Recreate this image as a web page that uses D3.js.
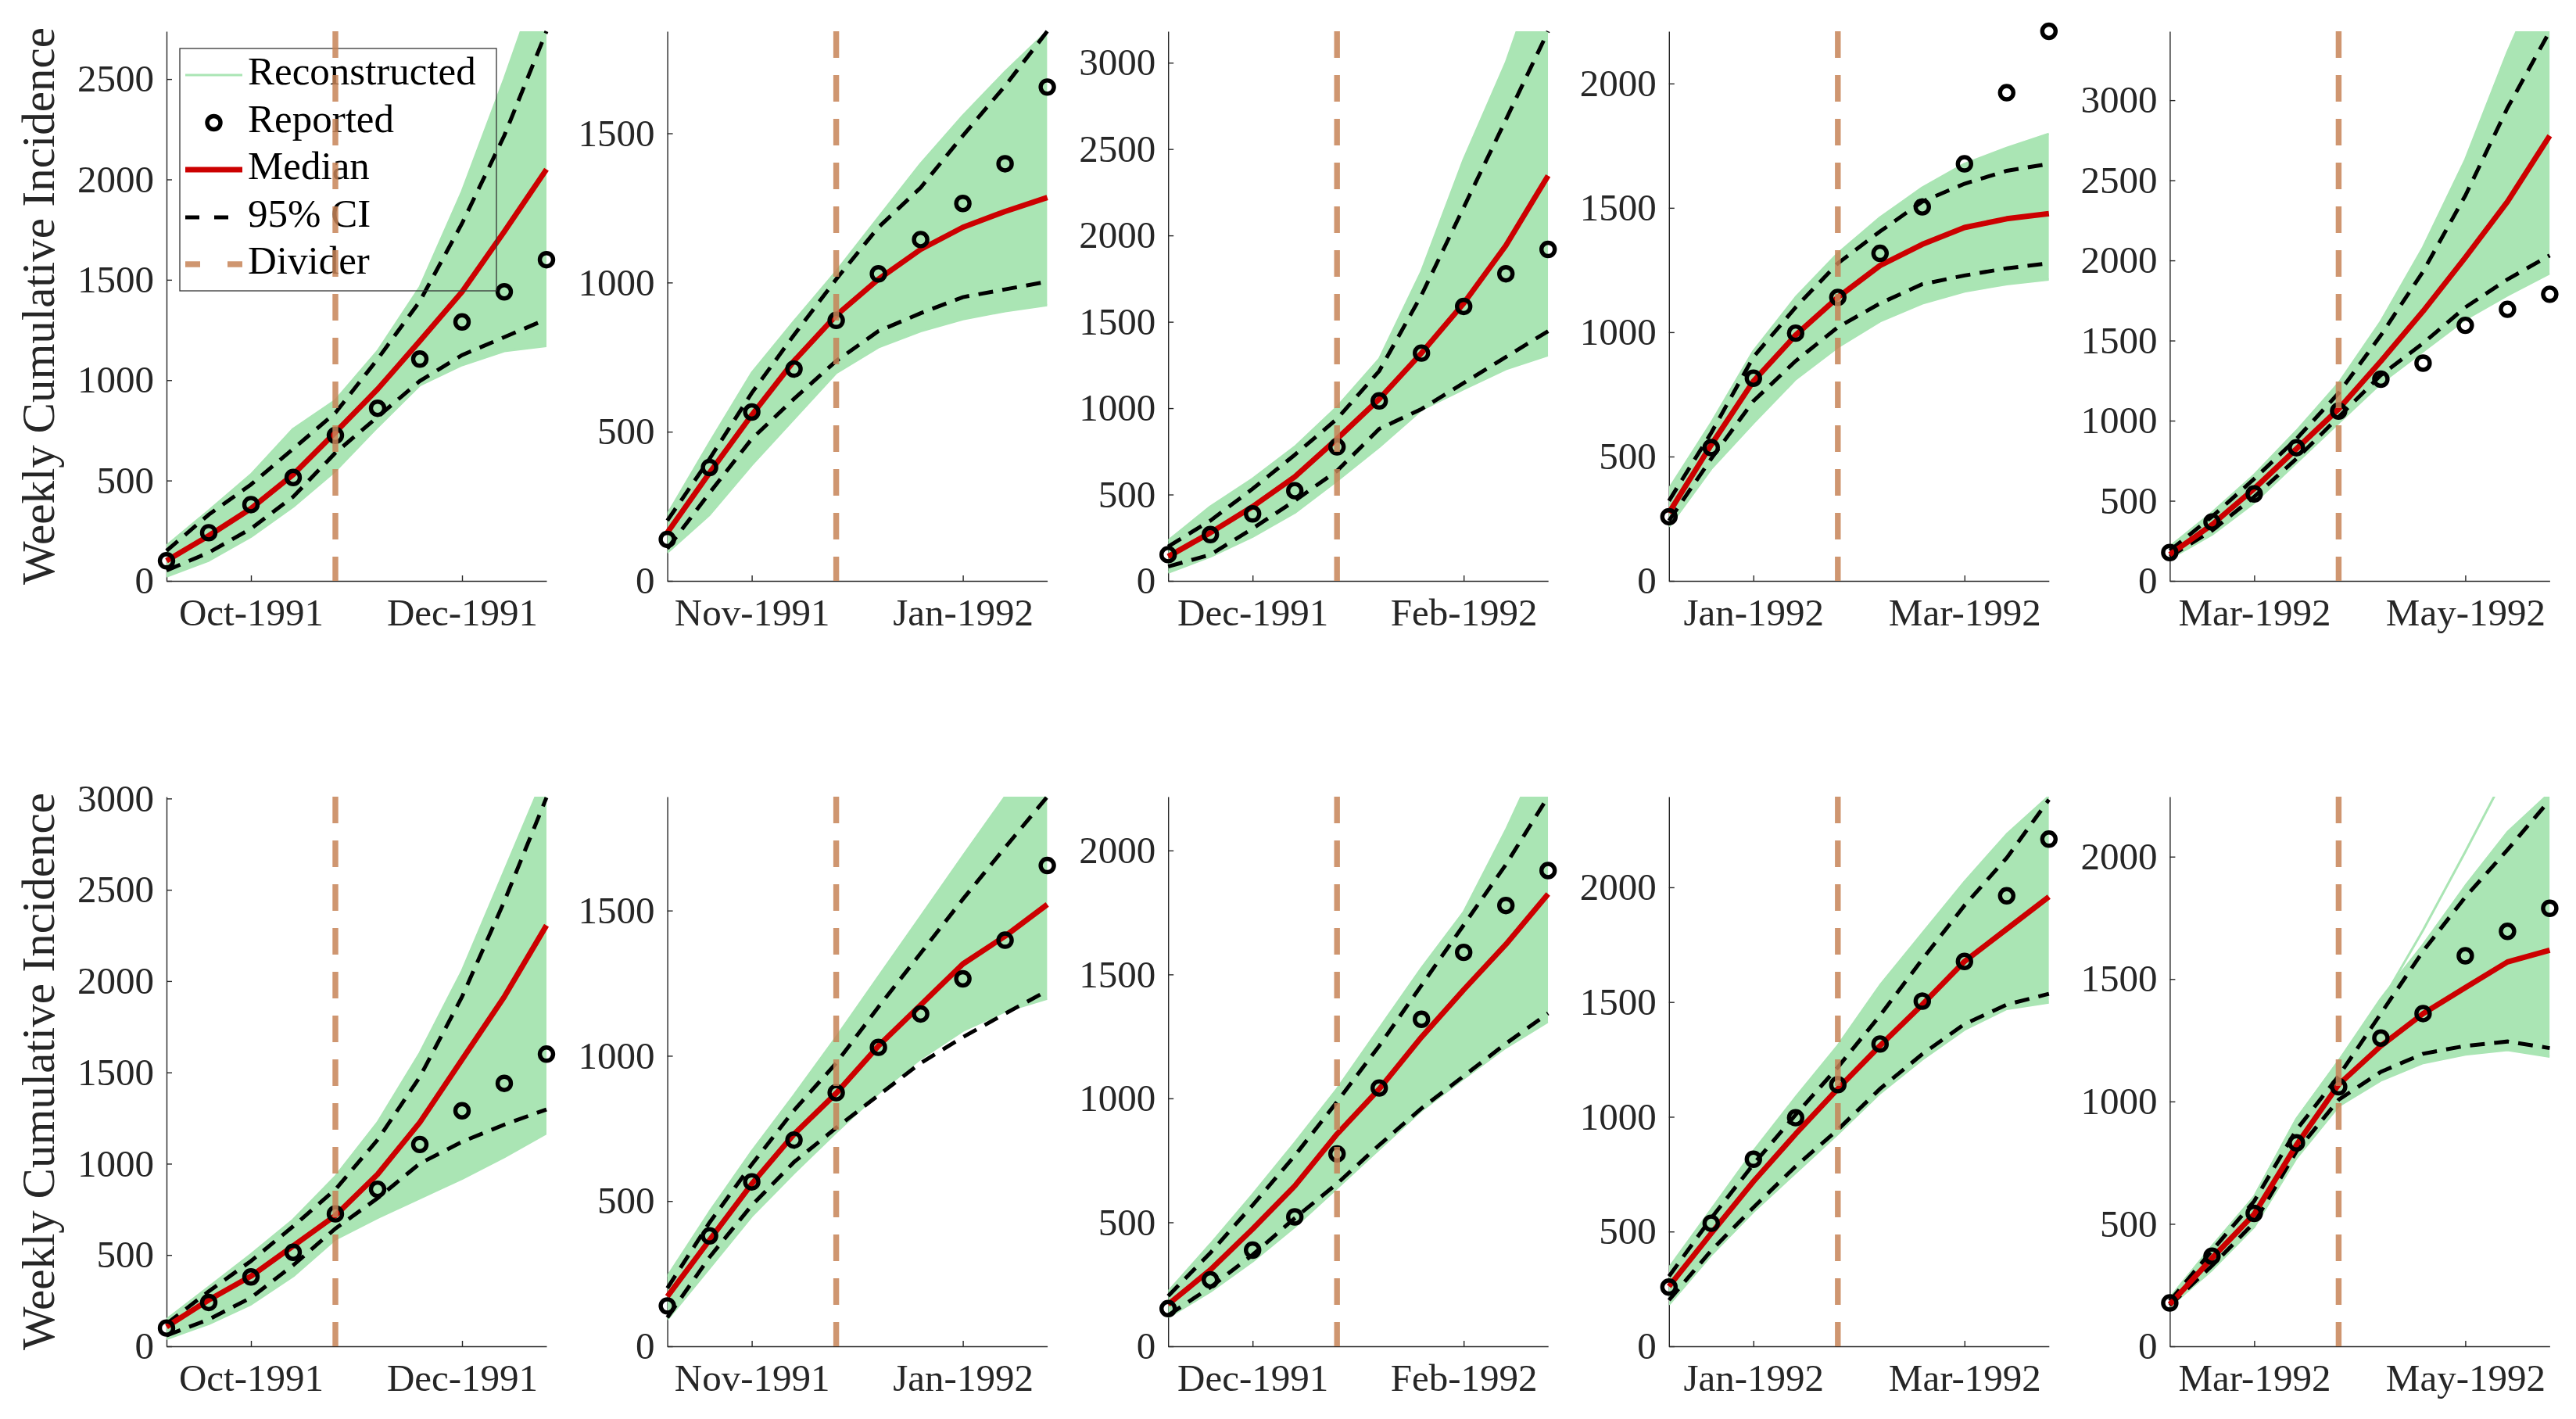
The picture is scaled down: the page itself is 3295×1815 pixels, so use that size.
<!DOCTYPE html>
<html>
<head>
<meta charset="utf-8">
<script src="https://cdn.jsdelivr.net/npm/d3@7"></script>
<style>
  html, body { margin: 0; padding: 0; background: #ffffff; }
  svg { display: block; }
</style>
</head>
<body>
<svg id="chart" width="3295" height="1815"></svg>
<script>
// ---------------- DATA ----------------
// Ten weekly points per panel (index 0..9); divider after week index 4.
const tickLabels = [
  ["Oct-1991", "Dec-1991"],
  ["Nov-1991", "Jan-1992"],
  ["Dec-1991", "Feb-1992"],
  ["Jan-1992", "Mar-1992"],
  ["Mar-1992", "May-1992"]
];
const tickWeeks = [2, 7];
const dividerWeek = 4;

// Reported cumulative incidence (same in both rows)
const reported = [
  [100, 240, 380, 515, 725, 860, 1105, 1290, 1440, 1600],
  [139, 380, 566, 710, 873, 1029, 1144, 1265, 1398, 1655],
  [152, 268, 388, 522, 776, 1042, 1319, 1589, 1778, 1919],
  [258, 536, 815, 996, 1140, 1317, 1504, 1677, 1963, 2210],
  [177, 368, 543, 831, 1060, 1259, 1359, 1595, 1695, 1789]
];

// ---- Top row ----
const yMaxTop = [2738, 1842, 3182, 2210, 3430];
const medianTop = [
  [100, 225, 360, 530, 740, 955, 1195, 1440, 1740, 2050],
  [162, 362, 556, 737, 890, 1011, 1111, 1185, 1238, 1285],
  [141, 279, 430, 603, 822, 1053, 1319, 1607, 1942, 2346],
  [274, 547, 803, 988, 1140, 1268, 1353, 1421, 1456, 1477],
  [164, 351, 575, 824, 1073, 1371, 1683, 2018, 2367, 2778]
];
const ciUpperTop = [
  [150, 330, 480, 658, 837, 1105, 1393, 1781, 2218, 2738],
  [202, 409, 630, 824, 1011, 1185, 1318, 1492, 1659, 1842],
  [199, 349, 533, 730, 938, 1215, 1654, 2162, 2670, 3182],
  [322, 595, 900, 1100, 1277, 1405, 1525, 1597, 1649, 1677],
  [189, 401, 637, 886, 1172, 1533, 1931, 2404, 2952, 3430]
];
const ciLowerTop = [
  [52, 141, 260, 419, 638, 817, 996, 1125, 1214, 1304],
  [108, 295, 476, 610, 737, 837, 897, 951, 977, 1003],
  [83, 152, 303, 464, 637, 880, 995, 1146, 1296, 1446],
  [242, 491, 723, 884, 1020, 1116, 1193, 1228, 1257, 1277],
  [152, 314, 525, 762, 1023, 1284, 1483, 1707, 1882, 2031]
];
const ensUpperTop = [
  [175, 350, 530, 757, 900, 1145, 1463, 1940, 2500, 3100],
  [222, 463, 697, 870, 1037, 1218, 1398, 1559, 1706, 1842],
  [233, 430, 591, 776, 1007, 1284, 1792, 2439, 3000, 3700],
  [370, 635, 924, 1140, 1317, 1461, 1581, 1677, 1741, 1798],
  [214, 426, 662, 936, 1234, 1620, 2081, 2628, 3300, 3900]
];
const ensLowerTop = [
  [22, 101, 220, 370, 548, 767, 975, 1075, 1145, 1170],
  [95, 222, 389, 543, 697, 783, 837, 877, 904, 924],
  [48, 141, 256, 395, 580, 776, 990, 1111, 1226, 1307],
  [218, 451, 635, 811, 940, 1044, 1116, 1164, 1193, 1212],
  [139, 289, 488, 737, 986, 1234, 1433, 1632, 1782, 1919]
];

// ---- Bottom row ----
const yMaxBottom = [3010, 1892, 2217, 2395, 2245];
const medianBottom = [
  [107, 254, 384, 550, 716, 942, 1226, 1570, 1914, 2305],
  [171, 366, 559, 730, 871, 1034, 1175, 1316, 1412, 1521],
  [169, 308, 473, 647, 856, 1038, 1247, 1438, 1621, 1824],
  [261, 492, 718, 925, 1122, 1310, 1489, 1677, 1818, 1959],
  [171, 360, 540, 822, 1069, 1227, 1359, 1465, 1570, 1618]
];
const ciUpperBottom = [
  [123, 301, 467, 657, 859, 1131, 1475, 1914, 2436, 3005],
  [200, 426, 626, 812, 975, 1168, 1353, 1539, 1717, 1892],
  [203, 377, 569, 769, 986, 1212, 1456, 1699, 1943, 2217],
  [305, 558, 793, 1009, 1216, 1442, 1686, 1921, 2128, 2382],
  [185, 391, 593, 884, 1104, 1359, 1614, 1835, 2028, 2231]
];
const ciLowerBottom = [
  [59, 147, 266, 444, 645, 811, 1001, 1120, 1214, 1297],
  [99, 307, 485, 634, 752, 864, 975, 1064, 1145, 1224],
  [125, 238, 369, 517, 656, 812, 960, 1090, 1221, 1343],
  [201, 417, 605, 784, 944, 1122, 1273, 1404, 1489, 1536],
  [167, 329, 505, 796, 1007, 1121, 1195, 1227, 1245, 1218]
];
const ensUpperBottom = [
  [147, 325, 503, 693, 930, 1226, 1606, 2056, 2602, 3150],
  [240, 463, 671, 864, 1064, 1272, 1479, 1687, 1892, 2100],
  [221, 412, 612, 821, 1038, 1282, 1525, 1751, 2082, 2450],
  [342, 596, 850, 1085, 1310, 1573, 1799, 2024, 2231, 2397],
  [197, 408, 611, 928, 1165, 1420, 1640, 1880, 2100, 2260]
];
const ensLowerBottom = [
  [40, 123, 230, 384, 586, 704, 811, 918, 1036, 1167],
  [92, 270, 448, 596, 737, 871, 990, 1086, 1153, 1197],
  [117, 221, 343, 482, 638, 795, 951, 1080, 1205, 1310],
  [182, 398, 586, 756, 925, 1103, 1250, 1380, 1470, 1498],
  [162, 312, 488, 769, 981, 1086, 1157, 1192, 1210, 1183]
];
// Individual reconstructed trajectory that stands out of the bundle (bottom row, last panel)
const outlierBottom5 = [197, 408, 611, 928, 1165, 1403, 1700, 2020, 2350, 2680];

const legendLabels = ["Reconstructed", "Reported", "Median", "95% CI", "Divider"];
const yLabel = "Weekly Cumulative Incidence";

// ---------------- LAYOUT / STYLE ----------------
const FONT = '"Liberation Serif", "Times New Roman", serif';
const GREEN = "#aae5b4";
const RED = "#cc0000";
const DIVC = "rgb(199,132,87)";
const AXC = "#262626";
const CIR_R = 8.5, CIR_W = 5.4;
const MED_W = 7, CI_W = 5, CI_DASH = "19,12";

const plotLeft0 = 213, colStep = 640.6, plotW = 486, plotH = 703;
const rowTops = [40, 1019];

const rows = [
  { median: medianTop, ciU: ciUpperTop, ciL: ciLowerTop, eU: ensUpperTop, eL: ensLowerTop, yMax: yMaxTop, extra: [] },
  { median: medianBottom, ciU: ciUpperBottom, ciL: ciLowerBottom, eU: ensUpperBottom, eL: ensLowerBottom, yMax: yMaxBottom,
    extra: [{ col: 4, values: outlierBottom5 }] }
];

const svg = d3.select("#chart");
svg.append("rect").attr("width", 3295).attr("height", 1815).attr("fill", "#fff");
const defs = svg.append("defs");
const dividerLayer = [];

rows.forEach((R, r) => {
  for (let c = 0; c < 5; c++) {
    const left = plotLeft0 + c * colStep;
    const top = rowTops[r];
    const x = d3.scaleLinear().domain([0, 9]).range([left, left + plotW]);
    const y = d3.scaleLinear().domain([0, R.yMax[c]]).range([top + plotH, top]);
    const g = svg.append("g");

    // axes (drawn under the data, as in MATLAB default layer)
    const ay = g.append("g")
      .attr("transform", `translate(${left},0)`)
      .call(d3.axisLeft(y)
        .tickValues(d3.range(0, R.yMax[c] + 1, 500))
        .tickFormat(d3.format("d"))
        .tickSize(-7).tickSizeOuter(0).tickPadding(16));
    const ax = g.append("g")
      .attr("transform", `translate(0,${top + plotH})`)
      .call(d3.axisBottom(x)
        .tickValues(tickWeeks)
        .tickFormat((d, i) => tickLabels[c][i])
        .tickSize(-7).tickSizeOuter(0).tickPadding(22));
    [ay, ax].forEach(a => {
      a.attr("font-family", FONT).attr("font-size", 49);
      a.selectAll("path, line").attr("stroke", AXC).attr("stroke-width", 1.4);
      a.selectAll("text").attr("fill", AXC);
    });

    // clip for ensemble
    const clipId = `clip-${r}-${c}`;
    defs.append("clipPath").attr("id", clipId)
      .append("rect").attr("x", left).attr("y", top).attr("width", plotW).attr("height", plotH);
    const ens = g.append("g").attr("clip-path", `url(#${clipId})`);

    const line = d3.line().x((d, i) => x(i)).y(d => y(d));
    const area = d3.area().x((d, i) => x(i)).y0((d, i) => y(R.eL[c][i])).y1(d => y(d));

    ens.append("path").datum(R.eU[c]).attr("d", area).attr("fill", GREEN);
    [R.eU[c], R.eL[c]].forEach(s =>
      ens.append("path").datum(s).attr("d", line)
        .attr("fill", "none").attr("stroke", GREEN).attr("stroke-width", 3).attr("stroke-linejoin", "round"));
    R.extra.filter(e => e.col === c).forEach(e =>
      ens.append("path").datum(e.values).attr("d", line)
        .attr("fill", "none").attr("stroke", GREEN).attr("stroke-width", 3));

    // 95% CI
    [R.ciU[c], R.ciL[c]].forEach(s =>
      g.append("path").datum(s).attr("d", line)
        .attr("fill", "none").attr("stroke", "#000").attr("stroke-width", CI_W)
        .attr("stroke-dasharray", CI_DASH));

    // median
    g.append("path").datum(R.median[c]).attr("d", line)
      .attr("fill", "none").attr("stroke", RED).attr("stroke-width", MED_W)
      .attr("stroke-linejoin", "round");

    // reported
    g.selectAll("circle.rep").data(reported[c]).join("circle")
      .attr("class", "rep")
      .attr("cx", (d, i) => x(i)).attr("cy", d => y(d)).attr("r", CIR_R)
      .attr("fill", "none").attr("stroke", "#000").attr("stroke-width", CIR_W);

    dividerLayer.push({ x: x(dividerWeek), y0: y.range()[1], y1: y.range()[0] });

    // y label
    if (c === 0) {
      svg.append("text")
        .attr("transform", `translate(69,${top + plotH / 2}) rotate(-90)`)
        .attr("text-anchor", "middle")
        .attr("font-family", FONT).attr("font-size", 59).attr("fill", AXC)
        .text(yLabel);
    }
  }
});

// ---------------- LEGEND (top-left panel) ----------------
const lg = svg.append("g");
lg.append("rect").attr("x", 230).attr("y", 62).attr("width", 405).attr("height", 310)
  .attr("fill", "none").attr("stroke", "#333").attr("stroke-width", 1.3);
const ly = [96, 157, 217, 278, 338];
const lx0 = 237, lx1 = 310;
lg.append("line").attr("x1", lx0).attr("x2", lx1).attr("y1", ly[0]).attr("y2", ly[0])
  .attr("stroke", GREEN).attr("stroke-width", 3);
lg.append("circle").attr("cx", (lx0 + lx1) / 2).attr("cy", ly[1]).attr("r", CIR_R)
  .attr("fill", "none").attr("stroke", "#000").attr("stroke-width", CIR_W);
lg.append("line").attr("x1", lx0).attr("x2", lx1).attr("y1", ly[2]).attr("y2", ly[2])
  .attr("stroke", RED).attr("stroke-width", MED_W);
lg.append("line").attr("x1", lx0).attr("x2", lx1).attr("y1", ly[3]).attr("y2", ly[3])
  .attr("stroke", "#000").attr("stroke-width", CI_W).attr("stroke-dasharray", "18,19");
lg.append("line").attr("x1", lx0).attr("x2", lx1).attr("y1", ly[4]).attr("y2", ly[4])
  .attr("stroke", DIVC).attr("stroke-opacity", 0.85).attr("stroke-width", 7.4).attr("stroke-dasharray", "19,35");
lg.selectAll("text.leg").data(legendLabels).join("text")
  .attr("class", "leg")
  .attr("x", 317).attr("y", (d, i) => ly[i] + 12)
  .attr("font-family", FONT).attr("font-size", 51).attr("fill", "#000")
  .text(d => d);

// ---------------- DIVIDERS (on top) ----------------
svg.append("g").selectAll("line").data(dividerLayer).join("line")
  .attr("x1", d => d.x).attr("x2", d => d.x)
  .attr("y1", d => d.y0).attr("y2", d => d.y1)
  .attr("stroke", DIVC).attr("stroke-opacity", 0.85)
  .attr("stroke-width", 7.4).attr("stroke-dasharray", "34,22");
</script>
</body>
</html>
